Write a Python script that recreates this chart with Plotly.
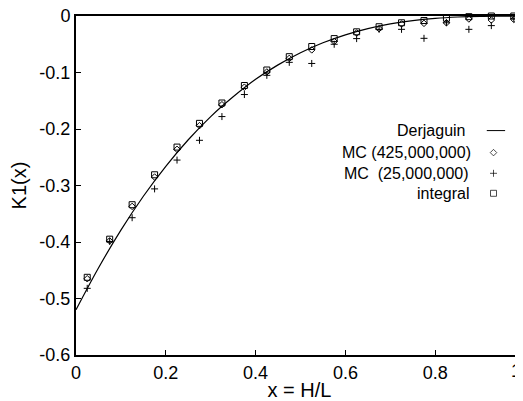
import plotly.graph_objects as go

# Derjaguin approximation curve
x_line = [0.0, 0.05, 0.10, 0.15, 0.20, 0.25, 0.30, 0.35, 0.40, 0.45, 0.50,
          0.55, 0.60, 0.65, 0.70, 0.75, 0.80, 0.85, 0.90, 0.95, 1.0]
derjaguin = [-0.520, -0.446, -0.379, -0.319, -0.266, -0.219, -0.178, -0.143,
             -0.112, -0.0865, -0.065, -0.0474, -0.0333, -0.0223, -0.0140,
             -0.0081, -0.0042, -0.0018, -0.0005, -0.0001, 0.0]

# simulation points
x_pts = [0.025, 0.075, 0.125, 0.175, 0.225, 0.275, 0.325, 0.375, 0.425, 0.475,
         0.525, 0.575, 0.625, 0.675, 0.725, 0.775, 0.825, 0.875, 0.925, 0.975]
mc_425 = [-0.465, -0.398, -0.337, -0.285, -0.236, -0.194, -0.157, -0.126, -0.099, -0.075,
          -0.060, -0.045, -0.030, -0.0225, -0.014, -0.013, -0.012, -0.0053, -0.007, -0.006]
mc_25 = [-0.482, -0.399, -0.357, -0.306, -0.255, -0.220, -0.178, -0.139, -0.105, -0.082,
         -0.084, -0.050, -0.040, -0.0236, -0.0236, -0.0395, -0.012, -0.0236, -0.017, -0.005]
integral = [-0.4625, -0.395, -0.334, -0.281, -0.232, -0.190, -0.154, -0.123, -0.0956, -0.072,
            -0.054, -0.040, -0.028, -0.019, -0.012, -0.008, -0.004, -0.0012, 0.0, 0.0]

legend_labels = ["Derjaguin", "MC (425,000,000)", "MC  (25,000,000)", "integral"]

FONT = "Liberation Sans, Arial, Helvetica, sans-serif"

fig = go.Figure()

fig.add_trace(go.Scatter(x=x_line, y=derjaguin, mode="lines",
                         line=dict(color="black", width=1.2, shape="spline"),
                         cliponaxis=False, showlegend=False))
fig.add_trace(go.Scatter(x=x_pts, y=mc_425, mode="markers", cliponaxis=False, showlegend=False,
                         marker=dict(symbol="diamond-open", size=5, color="black", line=dict(width=1))))
fig.add_trace(go.Scatter(x=x_pts, y=mc_25, mode="markers", cliponaxis=False, showlegend=False,
                         marker=dict(symbol="cross-thin-open", size=5, color="black", line=dict(width=1))))
fig.add_trace(go.Scatter(x=x_pts, y=integral, mode="markers", cliponaxis=False, showlegend=False,
                         marker=dict(symbol="square-open", size=6, color="black", line=dict(width=1))))

# empty trace so the right-hand tick axis is drawn
fig.add_trace(go.Scatter(x=[], y=[], yaxis="y2", showlegend=False, hoverinfo="skip"))

# hand-made legend: text on the left, symbol on the right
leg_y = [0.662, 0.597, 0.536, 0.477]
leg_x_text = [0.874, 0.888, 0.884, 0.884]
for lab, yy, xx in zip(legend_labels, leg_y, leg_x_text):
    fig.add_annotation(x=xx, y=yy, xref="paper", yref="paper", text=lab, showarrow=False,
                       xanchor="right", yanchor="middle", font=dict(size=16, color="black", family=FONT))
fig.add_shape(type="line", xref="paper", yref="paper", x0=0.919, x1=0.960, y0=leg_y[0], y1=leg_y[0],
              line=dict(color="black", width=1))
key_symbols = ["diamond-open", "cross-thin-open", "square-open"]
key_sizes = [5, 5, 6]
fig.add_trace(go.Scatter(x=[0.934] * 3, y=leg_y[1:], xaxis="x3", yaxis="y3", mode="markers",
                         showlegend=False, hoverinfo="skip", cliponaxis=False,
                         marker=dict(symbol=key_symbols, size=key_sizes, color="black", line=dict(width=1))))

# "1" tick label sits right at the cropped edge
fig.add_annotation(x=0.999, y=0, xref="paper", yref="paper", text="1", showarrow=False,
                   yanchor="top", yshift=-4, font=dict(size=18, color="black", family=FONT))

# page body has an 8px margin, so the figure is 8px short on each side
fig.update_layout(
    template="none",
    width=515, height=393,
    margin=dict(l=68, r=0, t=8, b=46),
    paper_bgcolor="white", plot_bgcolor="white",
    font=dict(family=FONT, size=18, color="black"),
    xaxis=dict(range=[0, 0.9955], tickvals=[0, 0.2, 0.4, 0.6, 0.8], ticktext=["0", "0.2", "0.4", "0.6", "0.8"],
               ticks="inside", ticklen=5, tickwidth=1, tickcolor="black",
               showline=True, linewidth=2, linecolor="black", mirror=True,
               showgrid=False, zeroline=False, automargin=False, ticklabeloverflow="allow",
               title=dict(text="x = H/L", font=dict(size=20), standoff=1)),
    yaxis=dict(range=[-0.6, 0], tickvals=[0, -0.1, -0.2, -0.3, -0.4, -0.5, -0.6],
               ticktext=["0", "-0.1", "-0.2", "-0.3", "-0.4", "-0.5", "-0.6"],
               ticks="inside", ticklen=5, tickwidth=1, tickcolor="black",
               showline=True, linewidth=2, linecolor="black",
               showgrid=False, zeroline=False, automargin=False, ticklabeloverflow="allow",
               title=dict(text="K1(x)", font=dict(size=20), standoff=8)),
    yaxis2=dict(overlaying="y", side="right", anchor="x", matches="y",
                tickvals=[0, -0.1, -0.2, -0.3, -0.4, -0.5, -0.6],
                ticks="inside", ticklen=5, tickwidth=1, tickcolor="black",
                showticklabels=False, showline=False, showgrid=False, zeroline=False),
    xaxis3=dict(overlaying="x", anchor="y3", range=[0, 1], visible=False),
    yaxis3=dict(overlaying="y", anchor="x3", range=[0, 1], visible=False),
)

fig.write_html("out.html")
